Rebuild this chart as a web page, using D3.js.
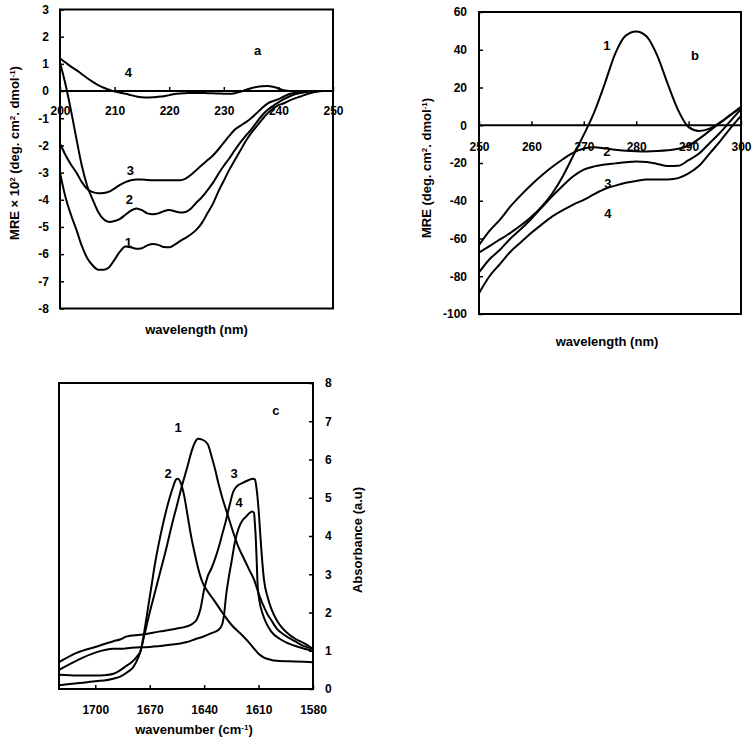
<!DOCTYPE html>
<html><head><meta charset="utf-8">
<script src="https://cdn.jsdelivr.net/npm/d3@7"></script>
<style>
html,body{margin:0;padding:0;background:#fff;}
svg text{font-family:"Liberation Sans",Arial,sans-serif;font-weight:bold;font-size:12px;fill:#000;}
svg text.title{font-size:13px;}
</style></head>
<body>
<svg id="chart" width="755" height="741"></svg>
<script>
// ---------- Panel a: far-UV CD ----------
const waveA = d3.range(200, 251, 1);
const a1 = [-3.0,-3.9,-4.55,-5.1,-5.7,-6.15,-6.42,-6.57,-6.57,-6.48,-6.2,-5.9,-5.72,-5.75,-5.8,-5.78,-5.68,-5.63,-5.66,-5.74,-5.75,-5.65,-5.52,-5.4,-5.27,-5.1,-4.85,-4.5,-4.15,-3.7,-3.3,-2.9,-2.55,-2.2,-1.85,-1.55,-1.3,-1.05,-0.82,-0.65,-0.52,-0.45,-0.35,-0.27,-0.2,-0.13,-0.07,-0.03,0,0,0];
const a2 = [1.05,0.25,-0.7,-1.75,-2.75,-3.5,-4.0,-4.45,-4.72,-4.82,-4.78,-4.7,-4.55,-4.4,-4.32,-4.38,-4.5,-4.53,-4.5,-4.42,-4.38,-4.42,-4.47,-4.45,-4.32,-4.1,-3.9,-3.65,-3.38,-3.05,-2.75,-2.48,-2.18,-1.9,-1.65,-1.42,-1.15,-0.9,-0.7,-0.55,-0.42,-0.3,-0.2,-0.12,-0.07,-0.04,-0.02,0,0,0,0];
const a3 = [-1.93,-2.35,-2.7,-3.0,-3.35,-3.6,-3.72,-3.76,-3.75,-3.7,-3.58,-3.45,-3.35,-3.28,-3.25,-3.25,-3.27,-3.28,-3.28,-3.28,-3.28,-3.28,-3.28,-3.22,-3.08,-2.9,-2.72,-2.55,-2.37,-2.15,-1.9,-1.65,-1.42,-1.28,-1.15,-1.0,-0.82,-0.62,-0.46,-0.37,-0.3,-0.2,-0.11,-0.06,-0.03,0,0,0,0,0,0];
const a4 = [1.2,1.05,0.9,0.77,0.62,0.47,0.34,0.22,0.12,0.05,-0.02,-0.06,-0.1,-0.15,-0.2,-0.23,-0.24,-0.23,-0.21,-0.19,-0.15,-0.11,-0.09,-0.08,-0.07,-0.07,-0.07,-0.08,-0.08,-0.09,-0.1,-0.1,-0.08,-0.03,0.04,0.1,0.15,0.18,0.19,0.16,0.1,0.03,0,0,0,0,0,0,0,0,0];
const ticksAx = [200,210,220,230,240,250];
const ticksAy = [3,2,1,0,-1,-2,-3,-4,-5,-6,-7,-8];
const labelsA = [{t:"4",x:212.5,y:0.69},{t:"3",x:212.9,y:-2.91},{t:"2",x:212.7,y:-3.97},{t:"1",x:212.5,y:-5.55},{t:"a",x:236.2,y:1.5}];

// ---------- Panel b: near-UV CD ----------
const waveB = d3.range(250, 301, 2);
const b1 = [-67.5,-64,-60.5,-57,-53,-48.5,-43,-36,-27,-16,-5,7,22,38,47.5,49.7,47,37,22,8,-1,-3,-1.8,1.5,5.5,9.5];
const b2 = [-63.5,-56,-50,-43,-37,-31.5,-26.5,-22,-18,-14.5,-12.3,-11.6,-12.2,-13,-13.5,-13.8,-13.9,-13.7,-13.3,-12.5,-10.8,-7.2,-3,1.2,5.5,9.8];
const b3 = [-78,-71,-66,-60,-55,-49.5,-43.5,-37.5,-32,-27,-23.5,-21.8,-20.8,-20.2,-19.6,-19.2,-19.5,-20.5,-21.6,-21.5,-18.5,-15,-9.5,-4,2.3,8.5];
const b4 = [-89,-80,-73.5,-67,-62,-57,-52.5,-48.3,-45,-42,-39.5,-36.5,-33.8,-32,-30.5,-29.5,-28.8,-28.8,-28.7,-28,-25.5,-21.5,-15,-8.5,-1.5,5];
const ticksBx = [250,260,270,280,290,300];
const ticksBy = [60,40,20,0,-20,-40,-60,-80,-100];
const labelsB = [{t:"1",x:274.4,y:42.6},{t:"2",x:274.4,y:-14},{t:"3",x:274.6,y:-31},{t:"4",x:274.6,y:-46.4},{t:"b",x:291.2,y:37.3}];

// ---------- Panel c: FTIR amide I ----------
const c1x = [1720,1710,1700,1690,1686,1682,1679,1676.5,1675,1673,1670,1667,1664,1661,1658,1655,1652,1649,1647,1645,1643.5,1641,1638,1636,1634,1632,1630,1627,1624,1621,1618,1615,1612.5,1610,1608,1605,1603,1600,1596,1590,1585,1580];
const c1y = [0.1,0.15,0.2,0.27,0.33,0.45,0.58,0.8,1.0,1.4,2.0,2.55,3.1,3.65,4.25,4.8,5.35,5.85,6.2,6.45,6.54,6.52,6.4,6.1,5.75,5.35,5.0,4.55,4.1,3.7,3.4,3.1,2.86,2.5,2.25,1.95,1.8,1.58,1.42,1.25,1.12,1.05];
const c2x = [1720,1710,1700,1695,1690,1687,1683,1680,1677,1675,1673,1671,1669,1667,1665,1663,1661,1659,1657,1655.5,1654.5,1653,1651,1649,1647,1645,1643,1641,1638,1635,1630,1625,1620,1615,1612,1610,1607,1603,1600,1590,1580];
const c2y = [0.37,0.35,0.35,0.36,0.4,0.47,0.6,0.7,0.85,1.0,1.5,2.1,2.7,3.3,3.8,4.25,4.65,5.0,5.3,5.48,5.5,5.4,5.05,4.5,3.95,3.5,3.1,2.8,2.55,2.35,2.0,1.68,1.45,1.2,1.03,0.92,0.82,0.76,0.74,0.72,0.7];
const c3x = [1720,1710,1700,1690,1686,1683,1675,1665,1655,1650,1646,1644,1642,1640,1638,1636,1634,1632,1630,1628,1626,1624,1622,1619,1616,1613,1612,1611,1610,1609,1608,1607,1605,1603,1600,1597,1593,1590,1585,1580];
const c3y = [0.7,0.95,1.1,1.25,1.3,1.37,1.42,1.5,1.58,1.63,1.72,1.82,2.1,2.6,2.95,3.15,3.4,3.7,4.05,4.4,4.8,5.15,5.3,5.38,5.45,5.5,5.48,5.2,4.7,4.0,3.35,2.85,2.4,2.1,1.8,1.6,1.42,1.32,1.2,1.05];
const c4x = [1720,1710,1700,1690,1686,1680,1670,1660,1650,1645,1640,1636,1632,1630,1629,1628,1626.5,1625,1623,1621,1619,1617,1615,1613.5,1612.5,1612,1611.5,1611,1610.5,1609.5,1608,1606,1603,1598,1594,1588,1580];
const c4y = [0.5,0.75,0.95,1.05,1.05,1.08,1.1,1.15,1.22,1.3,1.38,1.46,1.55,1.7,1.95,2.4,2.9,3.3,3.85,4.2,4.4,4.5,4.6,4.64,4.6,4.3,3.9,3.3,2.7,2.3,2.0,1.75,1.5,1.3,1.2,1.1,1.0];
const ticksCx = [1700,1670,1640,1610,1580];
const ticksCy = [0,1,2,3,4,5,6,7,8];
const labelsC = [{t:"1",x:1654.3,y:6.83},{t:"2",x:1659.8,y:5.63},{t:"3",x:1623.5,y:5.63},{t:"4",x:1620.7,y:4.87},{t:"c",x:1600.4,y:7.28}];

const svg = d3.select("#chart");

function zip(xs, ys){ return xs.map((x,i)=>[x, ys[i]]); }

function drawBox(g, x0, x1, y0, y1){
  g.append("rect").attr("x", x0).attr("y", y0).attr("width", x1-x0).attr("height", y1-y0)
    .attr("fill","none").attr("stroke","#000").attr("stroke-width",2);
}
function drawCurves(g, x, y, series){
  const line = d3.line().x(d=>x(d[0])).y(d=>y(d[1])).curve(d3.curveMonotoneX);
  series.forEach(s=>{
    const pts = s.slice().sort((p,q)=>x(p[0])-x(q[0]));
    g.append("path").attr("d", line(pts)).attr("fill","none").attr("stroke","#000")
      .attr("stroke-width",2).attr("stroke-linejoin","round");
  });
}
function drawLabels(g, x, y, labels){
  labels.forEach(l=>{
    g.append("text").attr("x", x(l.x)).attr("y", y(l.y)).attr("dy","0.36em")
      .attr("text-anchor","middle").style("font-size","13px").text(l.t);
  });
}
function styleAxis(sel){
  sel.select(".domain").remove();
  sel.selectAll(".tick line").attr("stroke","#000").attr("stroke-width",1.5);
  sel.selectAll(".tick text").style("font-family",'"Liberation Sans",Arial,sans-serif')
     .style("font-weight","bold").style("font-size","12px").attr("fill","#000");
}
function supText(sel, parts){
  parts.forEach(p=>{
    const t = sel.append("tspan").text(p.t);
    if (p.sup) t.attr("baseline-shift","super").style("font-size","8px");
  });
}

// ===== Panel a =====
{
  const L=60, R=333, T=9.5, B=308.5;
  const x = d3.scaleLinear().domain([200,250]).range([L,R]);
  const y = d3.scaleLinear().domain([-8,3]).range([B,T]);
  const g = svg.append("g");
  const ya = g.append("g").attr("transform",`translate(${L},0)`)
    .call(d3.axisLeft(y).tickValues(ticksAy).tickSizeInner(-4).tickSizeOuter(0).tickPadding(11).tickFormat(d=>String(d)));
  styleAxis(ya);
  g.append("line").attr("x1",L).attr("x2",R).attr("y1",y(0)).attr("y2",y(0)).attr("stroke","#000").attr("stroke-width",2);
  const xa = g.append("g").attr("transform",`translate(0,${y(0)})`)
    .call(d3.axisBottom(x).tickValues(ticksAx).tickSizeInner(-4).tickSizeOuter(0).tickPadding(15).tickFormat(d=>String(d)));
  styleAxis(xa);
  drawCurves(g, x, y, [zip(waveA,a1), zip(waveA,a2), zip(waveA,a3), zip(waveA,a4)]);
  drawBox(g, L, R, T, B);
  drawLabels(g, x, y, labelsA);
  const yt = g.append("text").attr("class","title").attr("transform","translate(19,153) rotate(-90)").attr("text-anchor","middle");
  supText(yt, [{t:"MRE × 10"},{t:"2",sup:true},{t:" (deg. cm"},{t:"2",sup:true},{t:". dmol"},{t:"-1",sup:true},{t:")"}]);
  g.append("text").attr("class","title").attr("x",(L+R)/2).attr("y",334).attr("text-anchor","middle").text("wavelength (nm)");
}

// ===== Panel b =====
{
  const L=479, R=741, T=12, B=314;
  const x = d3.scaleLinear().domain([250,300]).range([L,R]);
  const y = d3.scaleLinear().domain([-100,60]).range([B,T]);
  const g = svg.append("g");
  const ya = g.append("g").attr("transform",`translate(${L},0)`)
    .call(d3.axisLeft(y).tickValues(ticksBy).tickSizeInner(-4).tickSizeOuter(0).tickPadding(12).tickFormat(d=>String(d)));
  styleAxis(ya);
  g.append("line").attr("x1",L).attr("x2",R).attr("y1",y(0)).attr("y2",y(0)).attr("stroke","#000").attr("stroke-width",2);
  const xa = g.append("g").attr("transform",`translate(0,${y(0)})`)
    .call(d3.axisBottom(x).tickValues(ticksBx).tickSizeInner(-4).tickSizeOuter(0).tickPadding(17).tickFormat(d=>String(d)));
  styleAxis(xa);
  drawCurves(g, x, y, [zip(waveB,b1), zip(waveB,b2), zip(waveB,b3), zip(waveB,b4)]);
  drawBox(g, L, R, T, B);
  drawLabels(g, x, y, labelsB);
  const yt = g.append("text").attr("class","title").attr("transform","translate(431,168) rotate(-90)").attr("text-anchor","middle");
  supText(yt, [{t:"MRE (deg. cm"},{t:"2",sup:true},{t:". dmol"},{t:"-1",sup:true},{t:")"}]);
  g.append("text").attr("class","title").attr("x",607).attr("y",346).attr("text-anchor","middle").text("wavelength (nm)");
}

// ===== Panel c =====
{
  const L=59, R=313, T=383, B=689;
  const x = d3.scaleLinear().domain([1720,1580]).range([L,R]);
  const y = d3.scaleLinear().domain([0,8]).range([B,T]);
  const g = svg.append("g");
  const ya = g.append("g").attr("transform",`translate(${R},0)`)
    .call(d3.axisRight(y).tickValues(ticksCy).tickSizeInner(-4).tickSizeOuter(0).tickPadding(12).tickFormat(d=>String(d)));
  styleAxis(ya);
  const xa = g.append("g").attr("transform",`translate(0,${B})`)
    .call(d3.axisBottom(x).tickValues(ticksCx).tickSizeInner(-4).tickSizeOuter(0).tickPadding(16).tickFormat(d=>String(d)));
  styleAxis(xa);
  drawCurves(g, x, y, [zip(c1x,c1y), zip(c2x,c2y), zip(c3x,c3y), zip(c4x,c4y)]);
  drawBox(g, L, R, T, B);
  drawLabels(g, x, y, labelsC);
  g.append("text").attr("class","title").attr("transform","translate(362,540) rotate(-90)").attr("text-anchor","middle").text("Absorbance (a.u)");
  const xt = g.append("text").attr("class","title").attr("x",194).attr("y",734).attr("text-anchor","middle");
  supText(xt, [{t:"wavenumber (cm"},{t:"-1",sup:true},{t:")"}]);
}
</script>
</body></html>
